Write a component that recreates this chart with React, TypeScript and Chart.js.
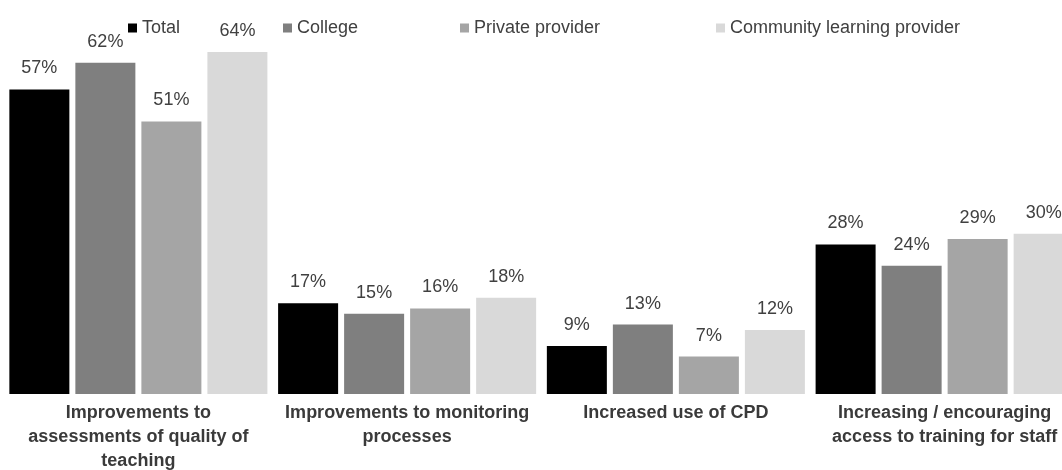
import React, { useEffect, useRef } from "react";
import { Chart, registerables } from "chart.js";

Chart.register(...registerables);

const categories: string[][] = [
  ["Improvements to", "assessments of quality of", "teaching"],
  ["Improvements to monitoring", "processes"],
  ["Increased use of CPD"],
  ["Increasing / encouraging", "access to training for staff"],
];

const seriesNames = ["Total", "College", "Private provider", "Community learning provider"];
const totalValues = [57, 17, 9, 28];
const collegeValues = [62, 15, 13, 24];
const privateValues = [51, 16, 7, 29];
const communityValues = [64, 18, 12, 30];
const seriesColors = ["#000000", "#7f7f7f", "#a5a5a5", "#d9d9d9"];

const FONT = "'Liberation Sans', Arial, sans-serif";
const TEXT = "#404040";

const labelPlugin = {
  id: "valueLabels",
  afterDatasetsDraw(chart: any) {
    const ctx = chart.ctx;
    ctx.save();
    ctx.font = `18px ${FONT}`;
    ctx.fillStyle = TEXT;
    ctx.textAlign = "center";
    ctx.textBaseline = "middle";
    chart.data.datasets.forEach((ds: any, i: number) => {
      const meta = chart.getDatasetMeta(i);
      meta.data.forEach((bar: any, j: number) => {
        ctx.fillText(`${ds.data[j]}%`, bar.x, bar.y - 21);
      });
    });
    ctx.restore();
  },
};

const legendX = [128, 283, 460, 716];

const legendPlugin = {
  id: "customLegend",
  afterDraw(chart: any) {
    const ctx = chart.ctx;
    ctx.save();
    ctx.font = `18px ${FONT}`;
    ctx.textBaseline = "middle";
    ctx.textAlign = "left";
    const y = 28;
    chart.data.datasets.forEach((ds: any, i: number) => {
      const x = legendX[i];
      ctx.fillStyle = ds.backgroundColor;
      ctx.fillRect(x, y - 4.5, 9, 9);
      ctx.fillStyle = TEXT;
      ctx.fillText(ds.label, x + 14, y);
    });
    ctx.restore();
  },
};

export default function App() {
  const ref = useRef<HTMLCanvasElement | null>(null);

  useEffect(() => {
    if (!ref.current) return;
    const values = [totalValues, collegeValues, privateValues, communityValues];
    const chart = new Chart(ref.current, {
      type: "bar",
      data: {
        labels: categories,
        datasets: seriesNames.map((name, i) => ({
          label: name,
          data: values[i],
          backgroundColor: seriesColors[i],
          borderWidth: 0,
          categoryPercentage: 0.9825,
          barPercentage: 0.909,
        })),
      },
      options: {
        responsive: false,
        animation: false,
        layout: { padding: { left: 4, right: 3, top: 20, bottom: 0 } },
        plugins: {
          legend: { display: false },
          tooltip: { enabled: false },
        },
        scales: {
          x: {
            grid: { display: false, drawTicks: false },
            border: { display: false },
            ticks: {
              autoSkip: false,
              maxRotation: 0,
              minRotation: 0,
              padding: 7,
              color: "#3a3a3a",
              font: { family: FONT, size: 18, weight: "bold", lineHeight: 1.33 },
            },
            afterFit: (scale: any) => {
              scale.height = 76;
            },
          },
          y: {
            display: false,
            min: 0,
            max: 70,
          },
        },
      },
      plugins: [labelPlugin, legendPlugin],
    });
    return () => chart.destroy();
  }, []);

  return (
    <div
      style={{
        position: "fixed",
        left: 0,
        top: 0,
        width: 1062,
        height: 470,
        overflow: "hidden",
        background: "#ffffff",
      }}
    >
      <canvas ref={ref} width={1082} height={470} style={{ display: "block" }} />
    </div>
  );
}
